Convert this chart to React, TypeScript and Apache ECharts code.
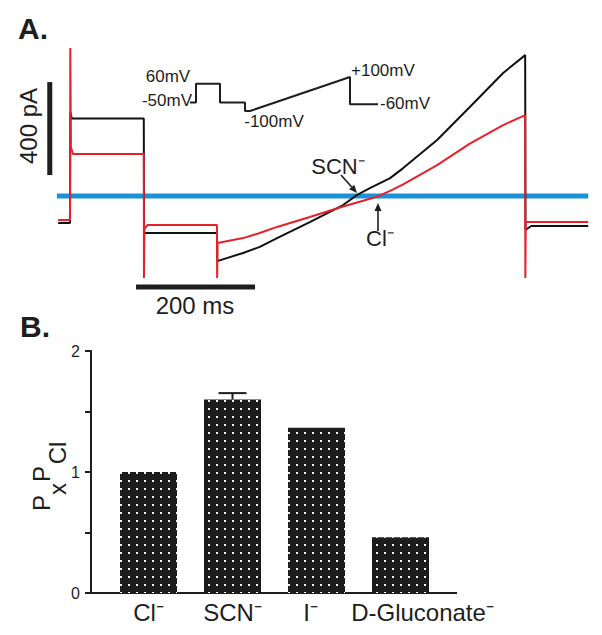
import React, { useEffect, useRef } from "react";
import * as echarts from "echarts";

// ---------- Panel A : current traces (time in ms, current in pA) ----------
const scnTime = [-20, 0, 0.5, 3, 124, 124.5, 247, 247.5, 291, 319, 348, 403, 459, 482, 504, 538, 560, 617, 672, 728, 765, 765.5, 775, 871];
const scnCurrent = [-116, -116, 361, 333, 333, -159, -159, -280, -245, -219, -181, -112, -39, 4, 34, 77, 120, 241, 383, 529, 606, -146, -129, -129];

const clTime = [-20, 0, 0.5, 1.5, 5, 124, 124.3, 125, 130, 247, 247.3, 248, 291, 319, 348, 403, 459, 516, 538, 560, 617, 672, 728, 765, 765.3, 766, 871];
const clCurrent = [-103, -103, 637, 211, 181, 181, -353, -142, -125, -125, -353, -202, -181, -159, -133, -90, -45, -3, 22, 50, 133, 225, 305, 348, -353, -112, -112];

const zeroTime = [-22, 871];
const zeroCurrent = [0, 0];

// scale bars (400 pA, 200 ms)
const currentBarTime = [-34, -34];
const currentBarValue = [90, 490];
const timeBarTime = [111, 311];
const timeBarValue = [-391, -391];

// voltage protocol inset (nominal ms, mV)
const protoTime = [0, 30, 30, 150, 150, 275, 275, 300, 800, 800, 940];
const protoVolt = [-50, -50, 60, 60, -50, -50, -100, -100, 100, -60, -60];

// ---------- Panel B : permeability ratios ----------
const anions = ["Cl\u207B", "SCN\u207B", "I\u207B", "D-Gluconate\u207B"];
const ratios = [1.0, 1.6, 1.365, 0.46];
const ratioErrors = [0, 0.052, 0, 0];
const ratioTicks = [0, 0.5, 1, 1.5, 2];

const FONT = "'Liberation Sans', Arial, Helvetica, sans-serif";
const INK = "#1e1e1e";
const RED = "#e62129";
const BLUE = "#1b92d8";

function zip(a: number[], b: number[]) {
  return a.map((v, i) => [v, b[i]]);
}

function arrow(x1: number, y1: number, x2: number, y2: number) {
  const dx = x2 - x1, dy = y2 - y1;
  const len = Math.sqrt(dx * dx + dy * dy);
  const ux = dx / len, uy = dy / len;
  const hl = 8, hw = 3.5;
  const bx = x2 - ux * hl, by = y2 - uy * hl;
  return [
    { type: "line", shape: { x1, y1, x2: bx, y2: by }, style: { stroke: INK, lineWidth: 1.6 } },
    {
      type: "polygon",
      shape: { points: [[x2, y2], [bx - uy * hw, by + ux * hw], [bx + uy * hw, by - ux * hw]] },
      style: { fill: INK },
    },
  ];
}

function txt(text: string, x: number, y: number, size: number, align = "center", extra: any = {}) {
  const { style, ...rest } = extra;
  return {
    type: "text",
    x,
    y,
    ...rest,
    style: { text, fontSize: size, fontFamily: FONT, fill: INK, align, verticalAlign: "middle", ...(style || {}) },
  };
}

// rich label formatting so labels sit where the original puts them
const labelShift: Record<string, string> = {
  "I\u207B": "i",
  "D-Gluconate\u207B": "g",
};

export default function App() {
  const ref = useRef<HTMLDivElement>(null);

  useEffect(() => {
    if (!ref.current) return;
    const chart = echarts.init(ref.current, null, { renderer: "svg" });

    const pxPerMs = 0.595;
    const pxPerPa = 0.2325;
    const rot = Math.PI / 2;

    const option: any = {
      animation: false,
      backgroundColor: "#ffffff",
      grid: [
        { left: 70 - 60 * pxPerMs, top: 196 - 700 * pxPerPa, width: 940 * pxPerMs, height: 1100 * pxPerPa, outerBoundsMode: "none" },
        { left: 106.5, top: 351, width: 336, height: 242, outerBoundsMode: "none" },
        { left: 190, top: 77, width: 188, height: 34, outerBoundsMode: "none" },
      ],
      xAxis: [
        { gridIndex: 0, type: "value", min: -60, max: 880, show: false },
        {
          gridIndex: 1,
          type: "category",
          data: anions,
          axisLine: { show: false },
          axisTick: { show: false },
          axisLabel: {
            fontSize: 24,
            fontFamily: FONT,
            color: INK,
            margin: 7,
            interval: 0,
            formatter: (v: string) => (labelShift[v] ? `{${labelShift[v]}|${v}}` : v),
            rich: {
              i: { fontSize: 24, fontFamily: FONT, color: INK, padding: [0, 12, 0, 0] },
              g: { fontSize: 24, fontFamily: FONT, color: INK, padding: [0, 0, 0, 44] },
            },
          },
        },
        { gridIndex: 2, type: "value", min: 0, max: 940, show: false },
      ],
      yAxis: [
        { gridIndex: 0, type: "value", min: -400, max: 700, show: false },
        {
          gridIndex: 1,
          type: "value",
          min: 0,
          max: 2,
          interval: 0.5,
          offset: 15.5,
          splitLine: { show: false },
          axisLine: { show: true, lineStyle: { color: INK, width: 2 } },
          axisTick: { show: true, length: 6, lineStyle: { color: INK, width: 2 } },
          axisLabel: {
            fontSize: 16,
            fontFamily: FONT,
            color: INK,
            margin: 11,
            formatter: (v: number) => (ratioTicks.includes(v) && v % 1 === 0 ? String(v) : ""),
          },
        },
        { gridIndex: 2, type: "value", min: -100, max: 100, show: false },
      ],
      series: [
        {
          type: "line", xAxisIndex: 0, yAxisIndex: 0, data: zip(zeroTime, zeroCurrent),
          symbol: "none", lineStyle: { color: BLUE, width: 5 }, z: 1,
        },
        {
          type: "line", xAxisIndex: 0, yAxisIndex: 0, data: zip(scnTime, scnCurrent),
          symbol: "none", lineStyle: { color: "#111111", width: 2 }, z: 2,
        },
        {
          type: "line", xAxisIndex: 0, yAxisIndex: 0, data: zip(clTime, clCurrent),
          symbol: "none", lineStyle: { color: RED, width: 2 }, z: 3,
        },
        {
          type: "line", xAxisIndex: 0, yAxisIndex: 0, data: zip(currentBarTime, currentBarValue),
          symbol: "none", lineStyle: { color: INK, width: 5 }, clip: false,
        },
        {
          type: "line", xAxisIndex: 0, yAxisIndex: 0, data: zip(timeBarTime, timeBarValue),
          symbol: "none", lineStyle: { color: INK, width: 5, cap: "butt" }, clip: false,
        },
        {
          type: "line", xAxisIndex: 2, yAxisIndex: 2, data: zip(protoTime, protoVolt),
          symbol: "none", lineStyle: { color: INK, width: 2 }, clip: false,
        },
        {
          type: "bar", xAxisIndex: 1, yAxisIndex: 1, data: ratios, barWidth: 57,
          itemStyle: {
            color: "#1c1c1c",
            decal: {
              symbol: "rect",
              symbolSize: 1,
              color: "#ffffff",
              dashArrayX: [[2, 6]],
              dashArrayY: [2, 6],
            },
          },
          z: 2,
        },
        {
          type: "custom", xAxisIndex: 1, yAxisIndex: 1,
          data: ratios.map((v, i) => [i, v, v + ratioErrors[i]]),
          renderItem: (params: any, api: any) => {
            const i = api.value(0);
            const lo = api.value(1);
            const hi = api.value(2);
            if (hi <= lo) return null;
            const p0 = api.coord([i, lo]);
            const p1 = api.coord([i, hi]);
            const hw = 14;
            return {
              type: "group",
              children: [
                { type: "line", shape: { x1: p0[0], y1: p0[1], x2: p1[0], y2: p1[1] }, style: { stroke: INK, lineWidth: 2 } },
                { type: "line", shape: { x1: p1[0] - hw, y1: p1[1], x2: p1[0] + hw, y2: p1[1] }, style: { stroke: INK, lineWidth: 2 } },
              ],
            };
          },
          z: 3,
        },
      ],
      graphic: [
        txt("A.", 18, 28, 30, "left", { style: { fontWeight: "bold" } }),
        txt("B.", 20, 326, 30, "left", { style: { fontWeight: "bold" } }),
        txt("400 pA", 28, 126, 24, "center", { rotation: rot }),
        txt("200 ms", 195, 305, 24, "center"),
        txt("60mV", 168, 76, 17, "center"),
        txt("-50mV", 192, 100, 17, "right"),
        txt("-100mV", 274, 121, 17, "center"),
        txt("+100mV", 351, 70, 17, "left"),
        txt("-60mV", 380, 103, 17, "left"),
        txt("SCN\u207B", 338, 166, 22, "center"),
        txt("Cl\u207B", 380, 238, 22, "center"),
        ...arrow(341, 175, 357, 193),
        ...arrow(378, 231, 378, 203),
        // y-axis title P_x P_Cl (rotated)
        txt("P", 41, 503, 24, "center", { rotation: rot }),
        txt("x", 57, 489, 24, "center", { rotation: rot }),
        txt("P", 41, 474, 24, "center", { rotation: rot }),
        txt("Cl", 57, 453, 24, "center", { rotation: rot }),
        { type: "line", shape: { x1: 85, y1: 593, x2: 457, y2: 593 }, style: { stroke: INK, lineWidth: 2 } },
      ],
    };

    chart.setOption(option);
    return () => chart.dispose();
  }, []);

  return <div ref={ref} style={{ position: "fixed", left: 0, top: 0, width: 602, height: 635 }} />;
}
